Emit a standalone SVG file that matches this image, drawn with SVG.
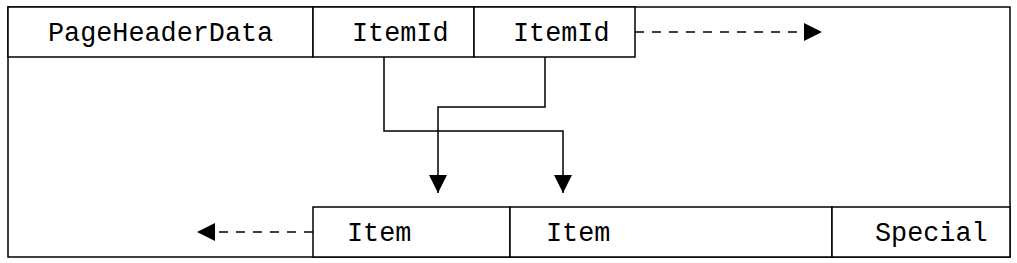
<svg xmlns="http://www.w3.org/2000/svg" width="1017" height="263" viewBox="0 0 1017 263">
<style>
.box{fill:#fff;stroke:#000;stroke-width:1.5}
.t{font-family:"Liberation Mono","Courier New",monospace;font-size:26.8px;fill:#000}
.c{fill:none;stroke:#000;stroke-width:1.5}
.d{stroke-dasharray:9,8}
</style>
<defs>
<marker id="ah" markerUnits="userSpaceOnUse" markerWidth="19" markerHeight="20" refX="18" refY="10" orient="auto">
<path d="M0,1 L18,10 L0,19 Z" fill="#000"/>
</marker>
</defs>
<rect class="box" x="8" y="7" width="1002" height="250"/>
<g id="n-pageheaderdata"><rect class="box" x="8" y="7" width="305" height="50"/><text class="t" x="48" y="41">PageHeaderData</text></g>
<g id="n-itemid1"><rect class="box" x="313" y="7" width="161" height="50"/><text class="t" x="352" y="41">ItemId</text></g>
<g id="n-itemid2"><rect class="box" x="474" y="7" width="161" height="50"/><text class="t" x="513" y="41">ItemId</text></g>
<g id="n-item1"><rect class="box" x="313" y="207" width="197" height="50"/><text class="t" x="347" y="241">Item</text></g>
<g id="n-item2"><rect class="box" x="510" y="207" width="322" height="50"/><text class="t" x="546" y="241">Item</text></g>
<g id="n-special"><rect class="box" x="832" y="207" width="178" height="50"/><text class="t" x="875" y="241">Special</text></g>
<g id="connectors">
<path class="c d" d="M635,32 L822,32" marker-end="url(#ah)"/>
<path class="c d" d="M313,232 L197,232" marker-end="url(#ah)"/>
<path class="c" d="M384,57 V131 H563 V193" marker-end="url(#ah)"/>
<path class="c" d="M545,57 V107 H438 V193" marker-end="url(#ah)"/>
</g>
</svg>
